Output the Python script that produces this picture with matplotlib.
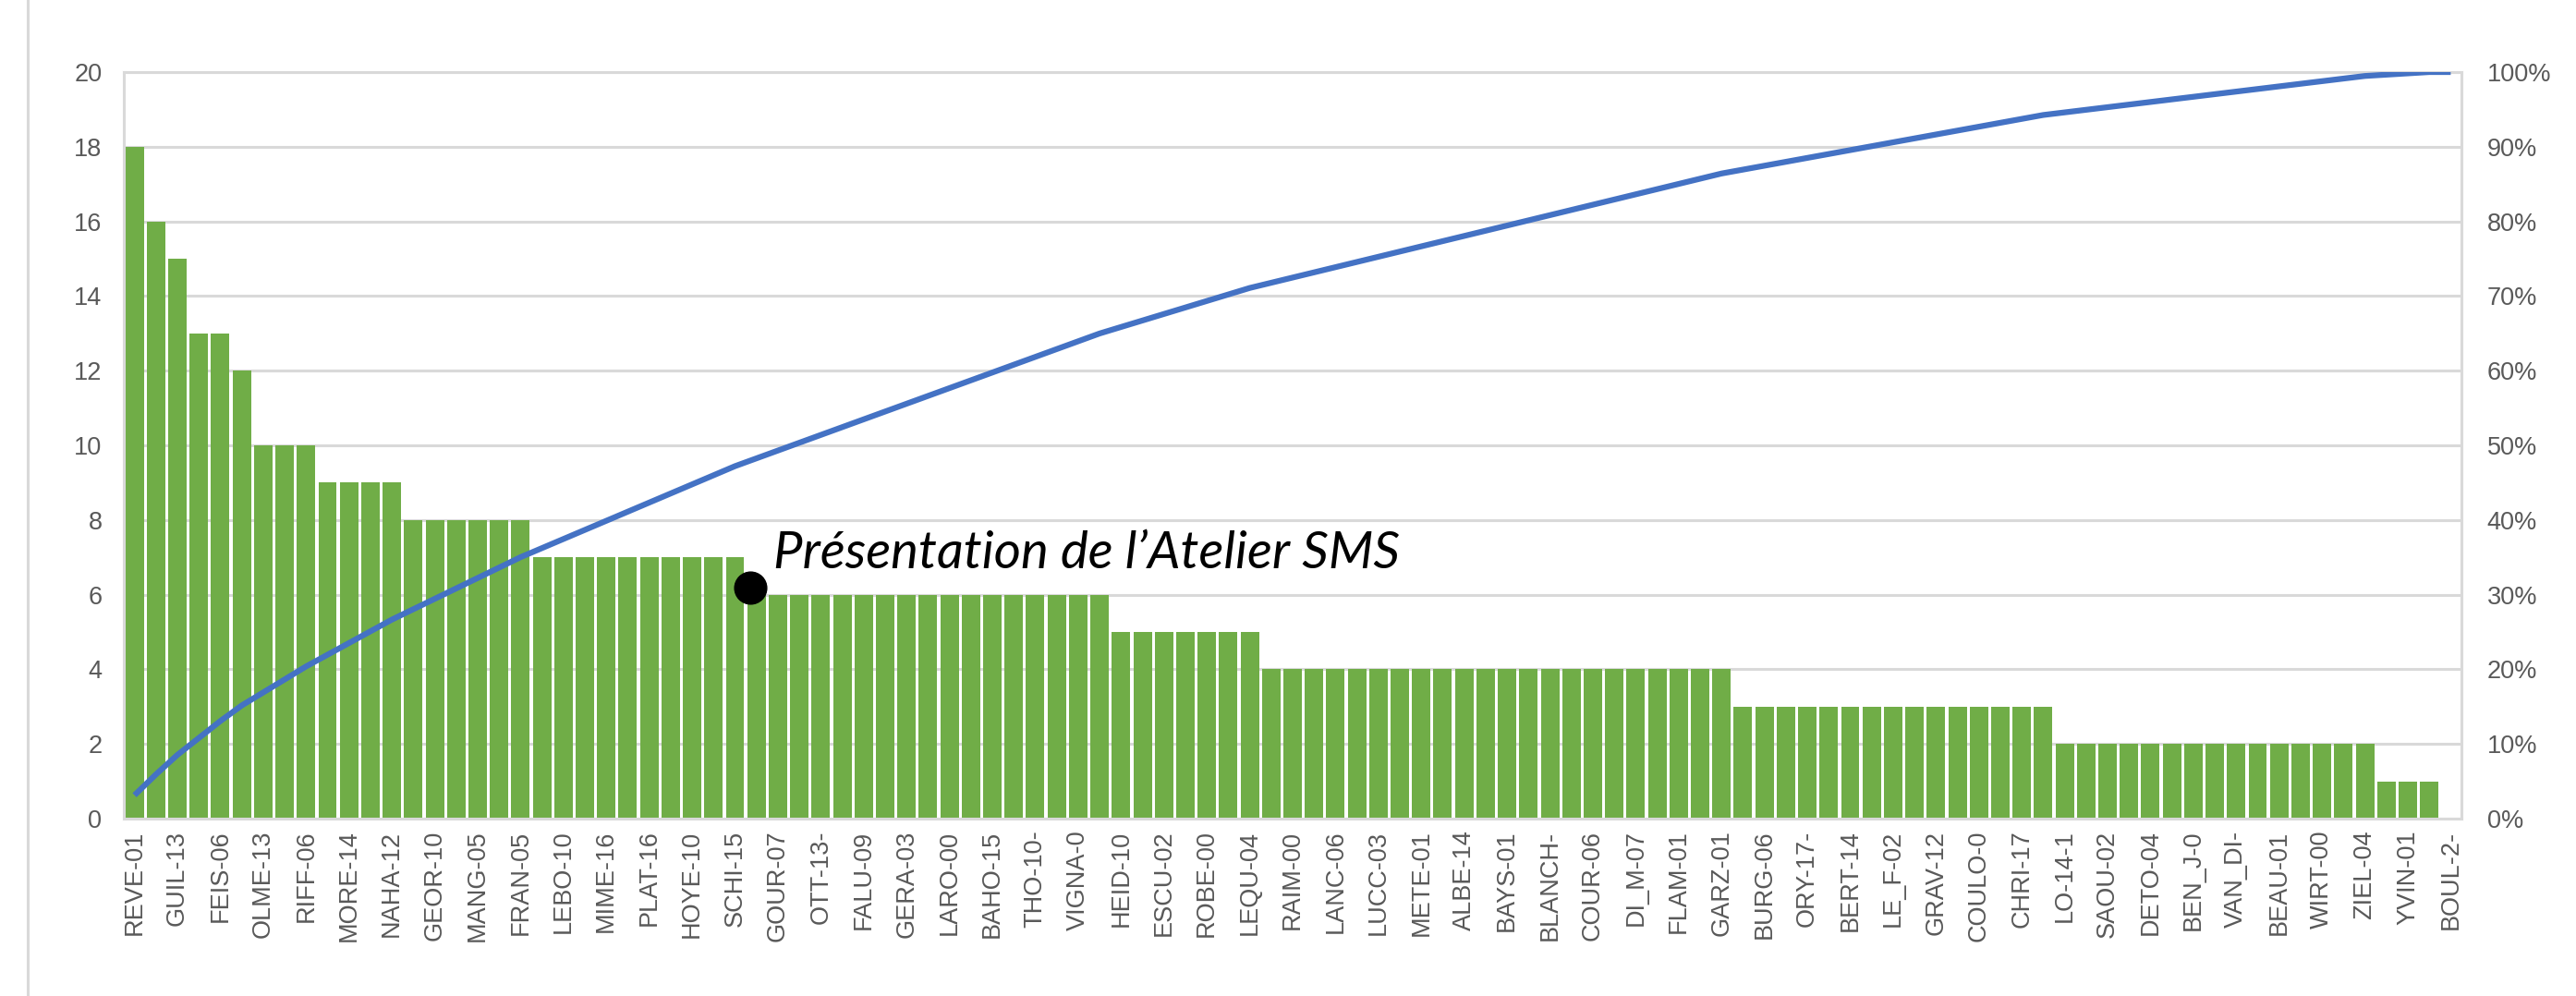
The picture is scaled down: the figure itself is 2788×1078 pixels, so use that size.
import matplotlib
matplotlib.use("Agg")
import matplotlib.pyplot as plt
import numpy as np
from matplotlib.ticker import FuncFormatter, MultipleLocator
from matplotlib.lines import Line2D

# ---- data -------------------------------------------------------------
# labels shown under every other bar (Excel skips alternate labels)
shown_labels = ["REVE-01", "GUIL-13", "FEIS-06", "OLME-13", "RIFF-06", "MORE-14",
                "NAHA-12", "GEOR-10", "MANG-05", "FRAN-05", "LEBO-10", "MIME-16",
                "PLAT-16", "HOYE-10", "SCHI-15", "GOUR-07", "OTT-13-", "FALU-09",
                "GERA-03", "LARO-00", "BAHO-15", "THO-10-", "VIGNA-0", "HEID-10",
                "ESCU-02", "ROBE-00", "LEQU-04", "RAIM-00", "LANC-06", "LUCC-03",
                "METE-01", "ALBE-14", "BAYS-01", "BLANCH-", "COUR-06", "DI_M-07",
                "FLAM-01", "GARZ-01", "BURG-06", "ORY-17-", "BERT-14", "LE_F-02",
                "GRAV-12", "COULO-0", "CHRI-17", "LO-14-1", "SAOU-02", "DETO-04",
                "BEN_J-0", "VAN_DI-", "BEAU-01", "WIRT-00", "ZIEL-04", "YVIN-01",
                "BOUL-2-"]

counts = [18, 16, 15, 13, 13, 12, 10, 10, 10, 9, 9, 9, 9,
          8, 8, 8, 8, 8, 8,
          7, 7, 7, 7, 7, 7, 7, 7, 7, 7,
          6, 6, 6, 6, 6, 6, 6, 6, 6, 6, 6, 6, 6, 6, 6, 6, 6,
          5, 5, 5, 5, 5, 5, 5,
          4, 4, 4, 4, 4, 4, 4, 4, 4, 4, 4, 4, 4, 4, 4, 4, 4, 4, 4, 4, 4, 4,
          3, 3, 3, 3, 3, 3, 3, 3, 3, 3, 3, 3, 3, 3, 3,
          2, 2, 2, 2, 2, 2, 2, 2, 2, 2, 2, 2, 2, 2, 2,
          1, 1, 1,
          0]

annotation_text = "Présentation de l\u2019Atelier SMS"

# ---- styling ----------------------------------------------------------
BAR = "#70AD47"
LINE = "#4472C4"
GRID = "#D9D9D9"
TXT = "#595959"

W, H = 2788, 1078
fig = plt.figure(figsize=(W / 100, H / 100), dpi=100)
fig.patch.set_facecolor("white")

L, R, T, B = 134, 2664, 78, 886
ax = fig.add_axes([L / W, 1 - B / H, (R - L) / W, (B - T) / H])

x = np.arange(len(counts))
ax.bar(x, counts, width=0.86, color=BAR, zorder=2)
ax.set_xlim(-0.5, len(counts) - 0.5)
ax.set_ylim(0, 20)
ax.yaxis.set_major_locator(MultipleLocator(2))
ax.grid(axis="y", color=GRID, linewidth=2.2, zorder=0)
ax.set_axisbelow(True)
for s in ax.spines.values():
    s.set_color(GRID)
    s.set_linewidth(2.2)

ax.set_xticks(x[::2])
ax.set_xticklabels(shown_labels, rotation=90, fontsize=19.5, color=TXT,
                   family="Liberation Sans")
ax.tick_params(axis="x", length=0, pad=9)
ax.tick_params(axis="y", length=0, pad=17, labelsize=19.5, labelcolor=TXT)
for lab in ax.get_yticklabels():
    lab.set_family("Liberation Sans")

# cumulative percentage on secondary axis
ax2 = ax.twinx()
cum = np.cumsum(counts) / np.sum(counts)
ax2.plot(x, cum, color=LINE, linewidth=4.5, solid_capstyle="butt", zorder=3)
ax2.set_ylim(0, 1)
ax2.yaxis.set_major_locator(MultipleLocator(0.1))
ax2.yaxis.set_major_formatter(FuncFormatter(lambda v, p: f"{v * 100:.0f}%"))
ax2.tick_params(axis="y", length=0, pad=20, labelsize=19.5, labelcolor=TXT)
for lab in ax2.get_yticklabels():
    lab.set_family("Liberation Sans")
for s in ax2.spines.values():
    s.set_visible(False)

# annotation: dot + italic text
ax.plot([28.7], [6.2], "o", color="black", markersize=25, zorder=5, clip_on=False)
ax.text(29.78, 6.72, annotation_text, fontsize=40.5, fontstyle="italic",
        family="Lato", color="black", va="baseline", ha="left", zorder=6)

# outer chart border line on the left
fig.add_artist(Line2D([30 / W, 30 / W], [0, 1], color=GRID, linewidth=2.2))

fig.savefig("out.png", dpi=100, facecolor="white")
